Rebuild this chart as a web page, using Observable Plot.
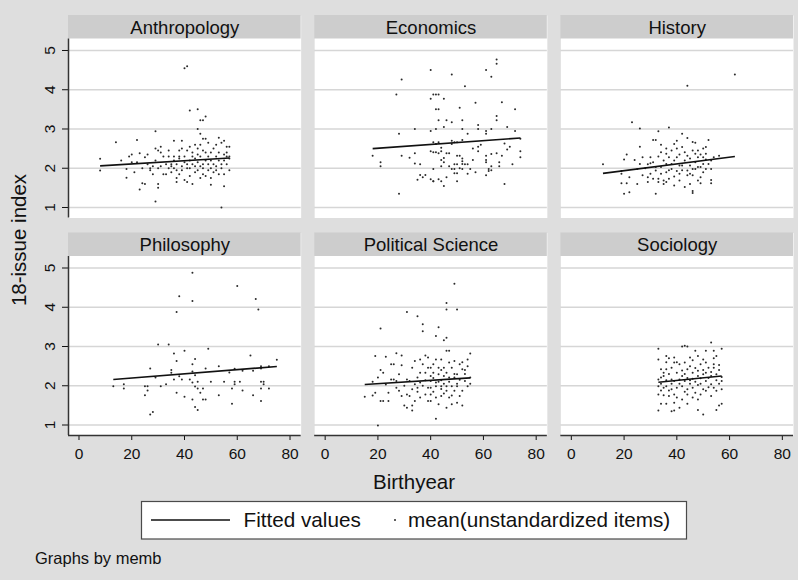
<!DOCTYPE html>
<html><head><meta charset="utf-8">
<script src="https://cdn.jsdelivr.net/npm/d3@7"></script>
<script src="https://cdn.jsdelivr.net/npm/@observablehq/plot@0.6"></script>
<style>
html,body{margin:0;padding:0;background:#dedede;}
#chart{position:relative;width:798px;height:580px;background:#dedede;font-family:"Liberation Sans",Arial,Helvetica,sans-serif;overflow:hidden;}
#chart svg{position:absolute;left:0;top:0;}
</style></head><body><div id="chart"></div>
<script>
const departments = ["Anthropology","Economics","History","Philosophy","Political Science","Sociology"];
const xTicks = [0,20,40,60,80];
const yTicks = [1,2,3,4,5];
const xTitle = "Birthyear";
const yTitle = "18-issue index";
const legendLabels = ["Fitted values","mean(unstandardized items)"];
const note = "Graphs by memb";

// fitted-line endpoints per department
const fitX1 = [8,18,12,13,15,33];
const fitY1 = [2.06,2.50,1.87,2.16,2.03,2.09];
const fitX2 = [57,74,62,75,55,57];
const fitY2 = [2.26,2.77,2.30,2.49,2.20,2.25];

// scatter points [birthyear, index]
const anthropology = [[8,2.24],[8,1.94],[14,2.66],[16,2.2],[18,1.76],[18,1.98],[19,2.3],[20,2.35],[20,2.15],[21,1.9],[22,2.72],[22,2.15],[23,2.38],[23,1.46],[24,2.0],[24,1.62],[25,1.6],[25,2.28],[26,2.1],[26,2.35],[27,2.0],[27,1.95],[28,2.05],[28,1.85],[29,2.94],[29,1.15],[29,2.5],[29,2.2],[30,1.6],[30,1.5],[30,2.45],[30,2.0],[31,2.05],[31,2.55],[31,2.4],[32,1.85],[32,2.3],[33,1.85],[33,2.1],[34,2.0],[34,2.45],[34,2.3],[35,2.1],[35,2.05],[35,1.9],[36,2.7],[36,2.3],[36,2.0],[36,2.2],[37,1.65],[37,1.75],[37,1.95],[37,2.1],[38,2.25],[38,2.45],[38,1.85],[38,2.3],[39,2.05],[39,1.95],[39,2.5],[39,2.7],[40,4.55],[40,2.15],[40,1.7],[40,2.3],[41,4.6],[41,2.1],[41,2.0],[41,1.65],[41,2.45],[42,3.47],[42,2.55],[42,2.2],[42,1.8],[42,2.0],[43,2.3],[43,1.6],[43,2.1],[43,2.4],[44,2.05],[44,2.6],[44,1.9],[44,2.25],[45,3.5],[45,3.0],[45,2.15],[45,2.35],[45,1.95],[45,2.5],[46,3.22],[46,2.88],[46,2.05],[46,2.3],[46,1.75],[46,2.6],[47,3.22],[47,2.75],[47,2.45],[47,2.1],[47,1.85],[47,2.0],[48,3.32],[48,2.75],[48,2.2],[48,1.8],[48,2.4],[49,2.65],[49,2.1],[49,1.95],[49,2.3],[50,1.58],[50,2.0],[50,2.4],[50,2.2],[50,1.75],[51,2.5],[51,2.1],[51,1.9],[52,2.3],[52,2.05],[52,2.6],[52,1.95],[53,2.78],[53,2.2],[53,1.85],[53,2.4],[54,1.0],[54,2.1],[54,2.65],[54,2.0],[55,1.54],[55,2.7],[55,2.35],[55,2.2],[55,1.85],[56,2.55],[56,2.3],[56,2.1],[56,2.4],[57,2.55],[57,2.25],[57,1.95],[57,2.3]];
const economics = [[18,2.32],[21,2.15],[21,2.05],[27,3.88],[28,2.88],[29,4.26],[29,2.32],[28,1.35],[32,2.27],[34,3.0],[34,2.38],[34,2.12],[35,1.71],[36,2.1],[36,1.83],[37,1.77],[38,1.83],[40,4.5],[40,3.77],[41,3.88],[40,2.95],[40,2.43],[41,1.67],[42,3.5],[43,3.5],[42,3.88],[43,3.88],[45,3.77],[43,3.22],[42,3.0],[43,2.66],[45,3.05],[46,3.22],[48,4.39],[48,3.17],[48,2.62],[51,3.54],[52,3.22],[52,3.0],[53,4.09],[57,3.67],[58,3.1],[58,3.0],[61,4.5],[63,4.33],[65,4.77],[65,4.66],[67,3.68],[65,3.33],[65,3.22],[72,3.5],[69,3.05],[72,2.95],[74,2.75],[74,2.43],[74,2.28],[71,2.1],[68,1.6],[61,2.95],[61,2.88],[63,3.0],[58,2.55],[59,2.6],[58,2.43],[61,2.32],[61,2.21],[61,2.15],[63,2.36],[65,2.38],[67,2.32],[68,2.63],[69,2.48],[70,2.55],[66,2.15],[66,2.05],[63,2.05],[63,1.95],[62,1.98],[62,1.93],[61,1.82],[56,2.5],[56,2.21],[54,2.88],[52,2.72],[50,2.66],[50,2.32],[51,2.32],[52,2.25],[52,2.18],[52,2.11],[50,2.1],[51,2.0],[53,2.1],[54,2.1],[52,1.98],[54,1.86],[57,1.9],[55,1.98],[49,2.1],[48,1.98],[49,1.87],[50,1.87],[50,1.67],[46,2.38],[47,2.38],[44,2.43],[41,2.41],[42,2.41],[43,2.38],[41,2.66],[42,2.62],[44,2.52],[48,2.7],[49,2.66],[44,2.21],[45,2.26],[45,2.15],[44,2.05],[41,1.98],[40,1.72],[41,1.67],[43,1.72],[44,1.67],[45,1.55],[46,1.77],[49,1.98],[47,2.05]];
const history = [[12,2.1],[23,3.17],[26,3.01],[33,2.94],[37,3.04],[44,4.1],[62,4.39],[42,2.88],[44,2.77],[46,2.67],[47,2.65],[52,2.72],[51,2.54],[56,2.32],[54,2.28],[53,2.2],[53,1.7],[53,1.62],[49,1.77],[49,1.62],[46,1.42],[46,1.37],[45,1.6],[43,1.52],[41,1.69],[39,1.56],[36,1.65],[35,1.6],[33,1.65],[32,1.35],[29,1.65],[25,1.6],[22,1.39],[20,1.35],[19,1.62],[21,1.62],[19,1.86],[20,2.22],[21,2.35],[24,2.21],[26,2.55],[27,2.28],[25,1.98],[26,2.11],[29,2.1],[30,2.13],[30,2.28],[31,2.72],[32,2.72],[34,2.6],[34,2.41],[36,2.37],[37,2.28],[36,2.11],[39,2.2],[40,2.28],[39,2.62],[40,2.5],[42,2.54],[43,2.41],[44,2.32],[46,2.45],[47,2.37],[48,2.28],[49,2.35],[50,2.28],[50,2.11],[49,2.03],[48,2.03],[46,1.98],[45,2.07],[44,1.94],[42,2.07],[40,1.93],[38,1.98],[36,1.9],[34,1.86],[32,1.94],[30,1.86],[29,1.77],[31,1.73],[33,1.73],[35,1.69],[37,1.73],[39,1.79],[41,1.86],[44,1.82],[46,1.82],[48,1.69],[50,1.9],[51,1.98],[53,1.98],[52,2.11],[51,2.37],[51,2.22],[47,1.98],[45,1.86],[41,2.07],[38,2.11],[34,2.03],[32,2.03],[27,1.82],[22,1.77],[19,1.93],[28,2.0],[31,2.15],[35,2.2],[38,2.45],[41,2.35],[43,2.2],[45,2.25],[47,2.15],[48,2.45],[50,2.5],[42,1.95],[37,1.95],[33,2.3],[36,2.5],[40,2.7]];
const philosophy = [[13,1.99],[17,2.04],[17,1.93],[25,1.99],[26,1.99],[25,1.76],[26,1.88],[27,2.44],[27,1.27],[28,1.33],[29,2.21],[30,3.05],[31,1.99],[33,2.04],[34,3.05],[35,2.4],[35,2.33],[36,2.82],[36,2.16],[37,2.63],[37,3.88],[37,1.82],[38,4.28],[38,2.24],[39,2.16],[40,2.89],[40,1.72],[43,4.88],[43,4.16],[42,2.16],[43,2.55],[43,2.36],[43,2.08],[43,1.65],[44,2.68],[44,2.27],[44,1.98],[44,1.46],[45,2.1],[45,1.93],[45,1.38],[46,1.82],[47,1.93],[47,1.65],[48,1.65],[48,2.44],[49,2.94],[50,2.1],[53,2.5],[53,1.76],[55,2.1],[57,2.34],[58,1.93],[58,1.54],[59,2.43],[59,2.1],[59,2.04],[60,4.54],[61,2.1],[62,1.88],[62,2.38],[65,2.77],[66,2.38],[66,1.76],[67,4.21],[68,3.94],[69,2.5],[69,2.44],[69,2.1],[69,1.93],[69,1.61],[70,2.04],[70,2.1],[72,2.5],[72,1.93],[75,2.66]];
const politicalScience = [[49,4.6],[46,4.11],[46,3.94],[50,3.94],[31,3.88],[35,3.77],[37,3.57],[37,3.39],[21,3.46],[43,3.49],[42,3.27],[46,3.22],[45,3.16],[46,2.89],[47,2.89],[55,2.82],[19,2.76],[23,2.74],[27,2.83],[29,2.77],[25,2.55],[26,2.55],[29,2.52],[21,2.4],[22,2.33],[20,2.21],[18,2.1],[19,1.82],[18,1.75],[15,1.72],[21,1.61],[22,1.61],[24,1.61],[20,0.99],[25,2.16],[26,2.16],[27,1.95],[28,1.87],[29,1.74],[30,1.5],[31,1.44],[33,1.5],[33,1.37],[31,2.16],[33,2.46],[34,2.63],[36,2.67],[38,2.77],[39,2.72],[40,2.46],[41,2.55],[42,2.67],[44,2.67],[45,2.46],[47,2.59],[49,2.63],[51,2.55],[52,2.6],[54,2.67],[50,2.29],[52,2.42],[49,2.21],[47,2.21],[45,2.25],[44,2.14],[42,2.08],[40,2.12],[38,2.14],[36,2.08],[34,2.04],[32,2.12],[31,1.78],[32,1.74],[34,1.61],[36,1.7],[38,1.78],[39,1.61],[40,1.78],[40,1.61],[42,1.16],[42,1.7],[43,1.53],[44,1.92],[44,1.74],[46,1.44],[46,1.87],[47,1.7],[48,1.53],[49,1.87],[50,1.57],[51,1.74],[52,1.5],[52,1.87],[53,2.12],[54,1.99],[55,2.05],[55,2.21],[39,1.95],[40,1.95],[42,1.99],[44,1.99],[46,1.99],[48,1.99],[50,1.99],[35,1.95],[33,1.91],[36,2.33],[38,2.33],[41,2.33],[43,2.29],[46,2.33],[35,2.21],[37,2.55],[39,2.46],[43,2.46],[48,2.46],[27,2.12],[28,2.29],[24,1.82],[23,2.03],[41,2.2],[43,2.1],[45,2.05],[47,2.1],[49,2.3],[51,2.15],[53,2.3],[44,2.4],[40,2.25],[37,2.0],[35,1.85],[30,2.0],[41,1.85],[45,1.8],[48,1.75],[50,2.05],[53,2.4],[54,2.5]];
const sociology = [[33,2.94],[33,2.67],[33,1.37],[38,1.35],[39,1.37],[41,1.44],[44,1.54],[48,1.38],[50,1.27],[55,1.38],[56,1.5],[57,1.54],[53,3.1],[51,2.89],[54,2.89],[57,2.94],[42,3.0],[43,3.02],[44,3.0],[47,2.89],[48,2.76],[50,2.67],[54,2.7],[55,2.76],[36,2.76],[37,2.7],[39,2.72],[39,2.59],[41,2.55],[43,2.59],[45,2.72],[46,2.65],[49,2.55],[51,2.59],[52,2.46],[54,2.46],[56,2.53],[34,2.42],[35,2.33],[36,2.42],[38,2.46],[40,2.33],[42,2.39],[44,2.42],[46,2.33],[48,2.38],[50,2.29],[51,2.33],[53,2.25],[55,2.29],[57,2.22],[33,2.16],[34,2.21],[36,2.14],[38,2.16],[39,2.12],[41,2.16],[43,2.12],[45,2.14],[47,2.1],[49,2.19],[51,2.12],[53,2.04],[55,2.14],[57,2.12],[33,1.99],[35,1.95],[36,1.99],[38,1.91],[40,1.95],[42,1.99],[44,1.91],[46,1.95],[48,2.02],[50,1.91],[51,1.87],[54,1.95],[57,1.91],[33,1.78],[35,1.76],[37,1.74],[39,1.78],[40,1.7],[42,1.65],[44,1.78],[46,1.7],[48,1.65],[49,1.78],[53,1.74],[55,1.87],[34,1.54],[36,1.54],[39,1.57],[34,2.05],[35,2.25],[37,2.3],[37,1.88],[38,2.05],[40,2.6],[41,2.05],[42,2.25],[43,2.3],[43,1.85],[44,2.2],[45,2.05],[45,2.5],[46,2.18],[47,2.45],[47,1.82],[48,2.25],[49,2.05],[50,2.4],[52,2.2],[53,2.35],[56,2.05],[56,2.4],[34,1.88],[36,2.6],[52,1.96],[54,2.55]];

const series = [anthropology, economics, history, philosophy, politicalScience, sociology];
const panels = departments.map((name, i) => ({name, col: i % 3, row: Math.floor(i / 3)}));
const points = panels.flatMap((p, i) => series[i].map(([x, y]) => ({col: p.col, row: p.row, x, y})));
const fits = panels.map((p, i) => ({col: p.col, row: p.row, x1: fitX1[i], y1: fitY1[i], x2: fitX2[i], y2: fitY2[i]}));

const FONT = '"Liberation Sans", Arial, Helvetica, sans-serif';
const xDom = [-3.98, 84.23];
const yDom = [0.7325, 5.8917];
const stripY = 5.293;

const plot = Plot.plot({
  width: 798, height: 470,
  marginLeft: 68, marginRight: 5, marginTop: 15, marginBottom: 35,
  style: {fontFamily: FONT, fontSize: "15.5px", background: "transparent", color: "#111", overflow: "visible"},
  fx: {domain: [0, 1, 2], paddingInner: 0.0548, paddingOuter: 0, round: false, axis: null},
  fy: {domain: [0, 1], paddingInner: 0.069, paddingOuter: 0, round: false, axis: null},
  x: {domain: xDom, ticks: xTicks, tickFormat: "d", tickSize: 5, tickPadding: 7, label: null},
  y: {domain: yDom, ticks: yTicks, tickFormat: "d", tickSize: 6, tickPadding: 8, tickRotate: -90, label: null},
  marks: [
    Plot.frame({fill: "white", stroke: null}),
    Plot.gridY(yTicks, {stroke: "#d6d6d6", strokeOpacity: 1, strokeWidth: 1.5}),
    Plot.rect(panels, {fx: "col", fy: "row", x1: xDom[0], x2: xDom[1], y1: stripY, y2: yDom[1], fill: "#cdcdcd"}),
    Plot.text(panels, {fx: "col", fy: "row", text: "name", frameAnchor: "top", lineAnchor: "bottom", dy: 18.3, fontSize: 18.5, fill: "#111"}),
    Plot.ruleX(panels.filter(p => p.col === 0), {fx: "col", fy: "row", x: xDom[0], y1: yDom[0], y2: stripY, stroke: "#333", strokeWidth: 1.5}),
    Plot.ruleY(panels.filter(p => p.row === 1), {fx: "col", fy: "row", y: yDom[0], x1: xDom[0], x2: xDom[1], stroke: "#333", strokeWidth: 1.5}),
    Plot.dot(points, {fx: "col", fy: "row", x: "x", y: "y", r: 1, fill: "#2a2a2a"}),
    Plot.link(fits, {fx: "col", fy: "row", x1: "x1", y1: "y1", x2: "x2", y2: "y2", stroke: "#111", strokeWidth: 1.6})
  ]
});
document.getElementById("chart").appendChild(plot);

// titles, legend, note
const svg = d3.select("#chart").append("svg")
  .attr("width", 798).attr("height", 580)
  .style("pointer-events", "none")
  .style("font-family", FONT);
svg.append("text").attr("transform", "translate(26,240) rotate(-90)")
  .attr("text-anchor", "middle").attr("font-size", 20.5).attr("fill", "#111").text(yTitle);
svg.append("text").attr("x", 414).attr("y", 489)
  .attr("text-anchor", "middle").attr("font-size", 20.5).attr("fill", "#111").text(xTitle);
const lg = svg.append("g");
lg.append("rect").attr("x", 141.5).attr("y", 501.5).attr("width", 545).attr("height", 37.5)
  .attr("fill", "white").attr("stroke", "#4a4a4a").attr("stroke-width", 1.2);
lg.append("line").attr("x1", 151).attr("x2", 230).attr("y1", 520).attr("y2", 520)
  .attr("stroke", "#111").attr("stroke-width", 1.6);
lg.append("text").attr("x", 243.5).attr("y", 526.5).attr("font-size", 20.7).attr("fill", "#111").text(legendLabels[0]);
lg.append("circle").attr("cx", 395).attr("cy", 520).attr("r", 1).attr("fill", "#2a2a2a");
lg.append("text").attr("x", 408).attr("y", 526.5).attr("font-size", 20.7).attr("fill", "#111").text(legendLabels[1]);
svg.append("text").attr("x", 35).attr("y", 564).attr("font-size", 16.5).attr("fill", "#111").text(note);
</script></body></html>
